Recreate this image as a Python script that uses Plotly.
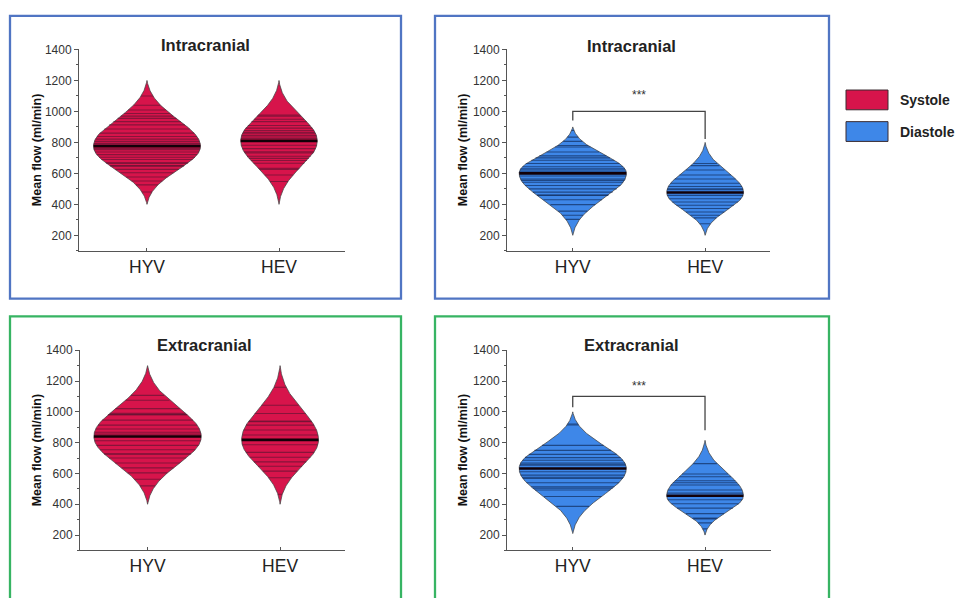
import numpy as np
import plotly.graph_objects as go

# ---------------------------------------------------------------- data
groups = ["HYV", "HEV"]

# mean flow (ml/min), one value per subject; each list spans the full range
systole_intra_hyv = [1200, 1100, 1040, 1009, 987, 970, 955, 934, 913, 887, 860, 838,
                     821, 807, 795, 790, 785, 775, 760, 753, 738, 721, 704, 690, 668,
                     665, 650, 647, 626, 604, 577, 551, 526, 480, 400]
systole_intra_hev = [1200, 977, 970, 950, 934, 909, 892, 877, 865, 856, 845, 835, 825,
                     810, 782, 760, 739, 732, 711, 697, 683, 665, 633, 626, 590, 548, 400]
diastole_intra_hyv = [900, 877, 834, 807, 780, 770, 738, 713, 700, 685, 664, 643, 630,
                      622, 610, 600, 583, 564, 555, 543, 522, 500, 479, 460, 458, 430,
                      398, 356, 330, 303, 200]
diastole_intra_hev = [800, 664, 650, 622, 590, 564, 536, 515, 500, 494, 477,
                      458, 436, 415, 394, 373, 351, 330, 313, 275, 200]
systole_extra_hyv = [1300, 1107, 1075, 1021, 990, 983, 980, 946, 914, 889, 867, 855,
                     840, 812, 782, 754, 728, 725, 700, 668, 636, 604, 562, 519, 400]
systole_extra_hev = [1300, 1160, 1043, 989, 940, 936, 914, 882, 850,
                     818, 786, 737, 705, 675, 647, 615, 572, 465, 400]
diastole_extra_hyv = [1000, 921, 915, 782, 750, 724, 703, 686, 668, 660, 653,
                      632, 611, 589, 575, 568, 540, 514, 505, 493, 450, 386, 210]
diastole_extra_hev = [815, 664, 596, 579, 553, 540, 525, 493, 472,
                      455, 429, 403, 375, 339, 310, 305, 279, 240, 200]

y_ticks = [200, 400, 600, 800, 1000, 1200, 1400]
panel_titles = ["Intracranial", "Intracranial", "Extracranial", "Extracranial"]
phases = ["Systole", "Diastole"]

# ---------------------------------------------------------------- style
W, H = 957, 598
FONT = "Arial, Liberation Sans, sans-serif"
FILL = {"Systole": "#D7144B", "Diastole": "#3E87E8"}
STRIPE = {"Systole": "rgba(70,20,45,0.55)", "Diastole": "rgba(10,30,70,0.6)"}
HALF_WIDTH = {"HYV": 0.405, "HEV": 0.29}  # category units


def px(x):
    return x / W


def py(y):
    return 1 - y / H


panels = [
    dict(title=panel_titles[0], phase="Systole",
         data=(systole_intra_hyv, systole_intra_hev),
         xdom=(79, 345), ydom=(43, 246.7), xr=(-0.515, 1.5),
         frame=(10, 9, 401, 295), frame_col="#5075C3", title_xy=(205, 38),
         ytitle_x=37, bracket=None),
    dict(title=panel_titles[1], phase="Diastole",
         data=(diastole_intra_hyv, diastole_intra_hev),
         xdom=(507, 770), ydom=(43, 246.7), xr=(-0.497, 1.49),
         frame=(435, 9, 829, 295), frame_col="#5075C3", title_xy=(631, 39),
         ytitle_x=463, bracket=(942, 1000, 822, 1108)),
    dict(title=panel_titles[2], phase="Systole",
         data=(systole_extra_hyv, systole_extra_hev),
         xdom=(80, 345), ydom=(347.3, 549.9), xr=(-0.51, 1.49),
         frame=(10, 313, 401, 610), frame_col="#37B463", title_xy=(204, 342),
         ytitle_x=37, bracket=None),
    dict(title=panel_titles[3], phase="Diastole",
         data=(diastole_extra_hyv, diastole_extra_hev),
         xdom=(507, 770.5), ydom=(347.3, 549.9), xr=(-0.497, 1.495),
         frame=(435, 313, 829, 610), frame_col="#37B463", title_xy=(631, 342),
         ytitle_x=463, bracket=(1030, 1100, 880, 1170)),
]


def envelope(v, lo, med, hi, wmax):
    """Half width of the violin at each value: widest at the median,
    tapering to a thin point at the smallest and largest observation."""
    v = np.asarray(v, dtype=float)
    t = np.where(v >= med, (v - med) / (hi - med), (med - v) / (med - lo))
    t = np.clip(t, 0, 1)
    return wmax * np.exp(-(t / 0.54) ** 2.1) * (1 - t ** 8)


fig = go.Figure()
shapes = []
annotations = []
layout = {}

for i, p in enumerate(panels):
    sfx = "" if i == 0 else str(i + 1)
    xa, ya = "x" + sfx, "y" + sfx
    phase = p["phase"]
    for gi, (g, vals) in enumerate(zip(groups, p["data"])):
        vals = np.asarray(vals, dtype=float)
        lo, hi, med = vals.min(), vals.max(), float(np.median(vals))
        wmax = HALF_WIDTH[g]
        ys = np.linspace(lo, hi, 400)
        hw = envelope(ys, lo, med, hi, wmax)
        ox = np.concatenate([gi + hw, (gi - hw)[::-1]])
        oy = np.concatenate([ys, ys[::-1]])
        fig.add_trace(go.Scatter(x=ox, y=oy, mode="lines", fill="toself",
                                 fillcolor=FILL[phase],
                                 line=dict(color="rgba(70,70,70,0.85)", width=0.9),
                                 xaxis=xa, yaxis=ya, hoverinfo="skip",
                                 showlegend=False))
        # one stripe per subject
        lx, ly = [], []
        for v in vals:
            if v == med:
                continue
            w = float(envelope([v], lo, med, hi, wmax)[0])
            lx += [gi - w, gi + w, None]
            ly += [v, v, None]
        fig.add_trace(go.Scatter(x=lx, y=ly, mode="lines",
                                 line=dict(color=STRIPE[phase], width=1.1),
                                 xaxis=xa, yaxis=ya, hoverinfo="skip",
                                 showlegend=False))
        wm = float(envelope([med], lo, med, hi, wmax)[0])
        fig.add_trace(go.Scatter(x=[gi - wm, gi + wm], y=[med, med], mode="lines",
                                 line=dict(color="#120008", width=2.6),
                                 xaxis=xa, yaxis=ya, hoverinfo="skip",
                                 showlegend=False))

    if p["bracket"]:
        left_end, top, right_end, star_y = p["bracket"]
        fig.add_trace(go.Scatter(x=[0, 0, 1, 1], y=[left_end, top, top, right_end],
                                 mode="lines", line=dict(color="#444", width=1.3),
                                 xaxis=xa, yaxis=ya, hoverinfo="skip",
                                 showlegend=False))
        annotations.append(dict(x=0.5, y=star_y, xref=xa, yref=ya, text="***",
                                showarrow=False,
                                font=dict(family=FONT, size=12, color="#333")))

    layout["xaxis" + sfx] = dict(
        domain=[px(p["xdom"][0]), px(p["xdom"][1])], anchor=ya,
        range=list(p["xr"]), tickvals=[0, 1], ticktext=groups,
        ticks="inside", ticklen=3, tickcolor="#555",
        showline=True, linecolor="#555", linewidth=1, showgrid=False,
        zeroline=False, tickfont=dict(family=FONT, size=17.5, color="#222"),
        fixedrange=True)
    layout["yaxis" + sfx] = dict(
        domain=[py(p["ydom"][1]), py(p["ydom"][0])], anchor=xa,
        range=[100, 1400], tickvals=y_ticks, ticks="outside", ticklen=4,
        tickcolor="#555", minor=dict(dtick=100, tick0=0, ticks="outside",
                                     ticklen=2, tickcolor="#555"),
        showline=True, linecolor="#555", linewidth=1, showgrid=False,
        zeroline=False, tickfont=dict(family=FONT, size=12, color="#333"),
        fixedrange=True)

    annotations.append(dict(x=px(p["title_xy"][0]), y=py(p["title_xy"][1]),
                            xref="paper", yref="paper", text="<b>%s</b>" % p["title"],
                            showarrow=False, xanchor="center", yanchor="middle",
                            font=dict(family=FONT, size=16.5, color="#222")))
    annotations.append(dict(x=px(p["ytitle_x"]),
                            y=py((p["ydom"][0] + p["ydom"][1]) / 2),
                            xref="paper", yref="paper",
                            text="<b>Mean flow (ml/min)</b>", textangle=-90,
                            showarrow=False, xanchor="center", yanchor="middle",
                            font=dict(family=FONT, size=12.5, color="#111")))
    x0, y0, x1, y1 = p["frame"]
    shapes.append(dict(type="rect", xref="paper", yref="paper",
                       x0=px(x0), x1=px(x1), y0=py(y1), y1=py(y0),
                       line=dict(color=p["frame_col"], width=2.3)))

# legend swatches
for k, ph in enumerate(phases):
    top = 84 + 32 * k
    shapes.append(dict(type="rect", xref="paper", yref="paper",
                       x0=px(846), x1=px(888), y0=py(top + 20), y1=py(top),
                       fillcolor=FILL[ph], line=dict(color="#3a2a30", width=1)))
    annotations.append(dict(x=px(898), y=py(top + 10), xref="paper", yref="paper",
                            text="<b>%s</b>" % ph, showarrow=False,
                            xanchor="left", yanchor="middle",
                            font=dict(family=FONT, size=14, color="#222")))

fig.update_layout(width=W, height=H, margin=dict(l=0, r=0, t=0, b=0),
                  paper_bgcolor="white", plot_bgcolor="white",
                  shapes=shapes, annotations=annotations, showlegend=False,
                  **layout)

fig.write_html("out.html")
